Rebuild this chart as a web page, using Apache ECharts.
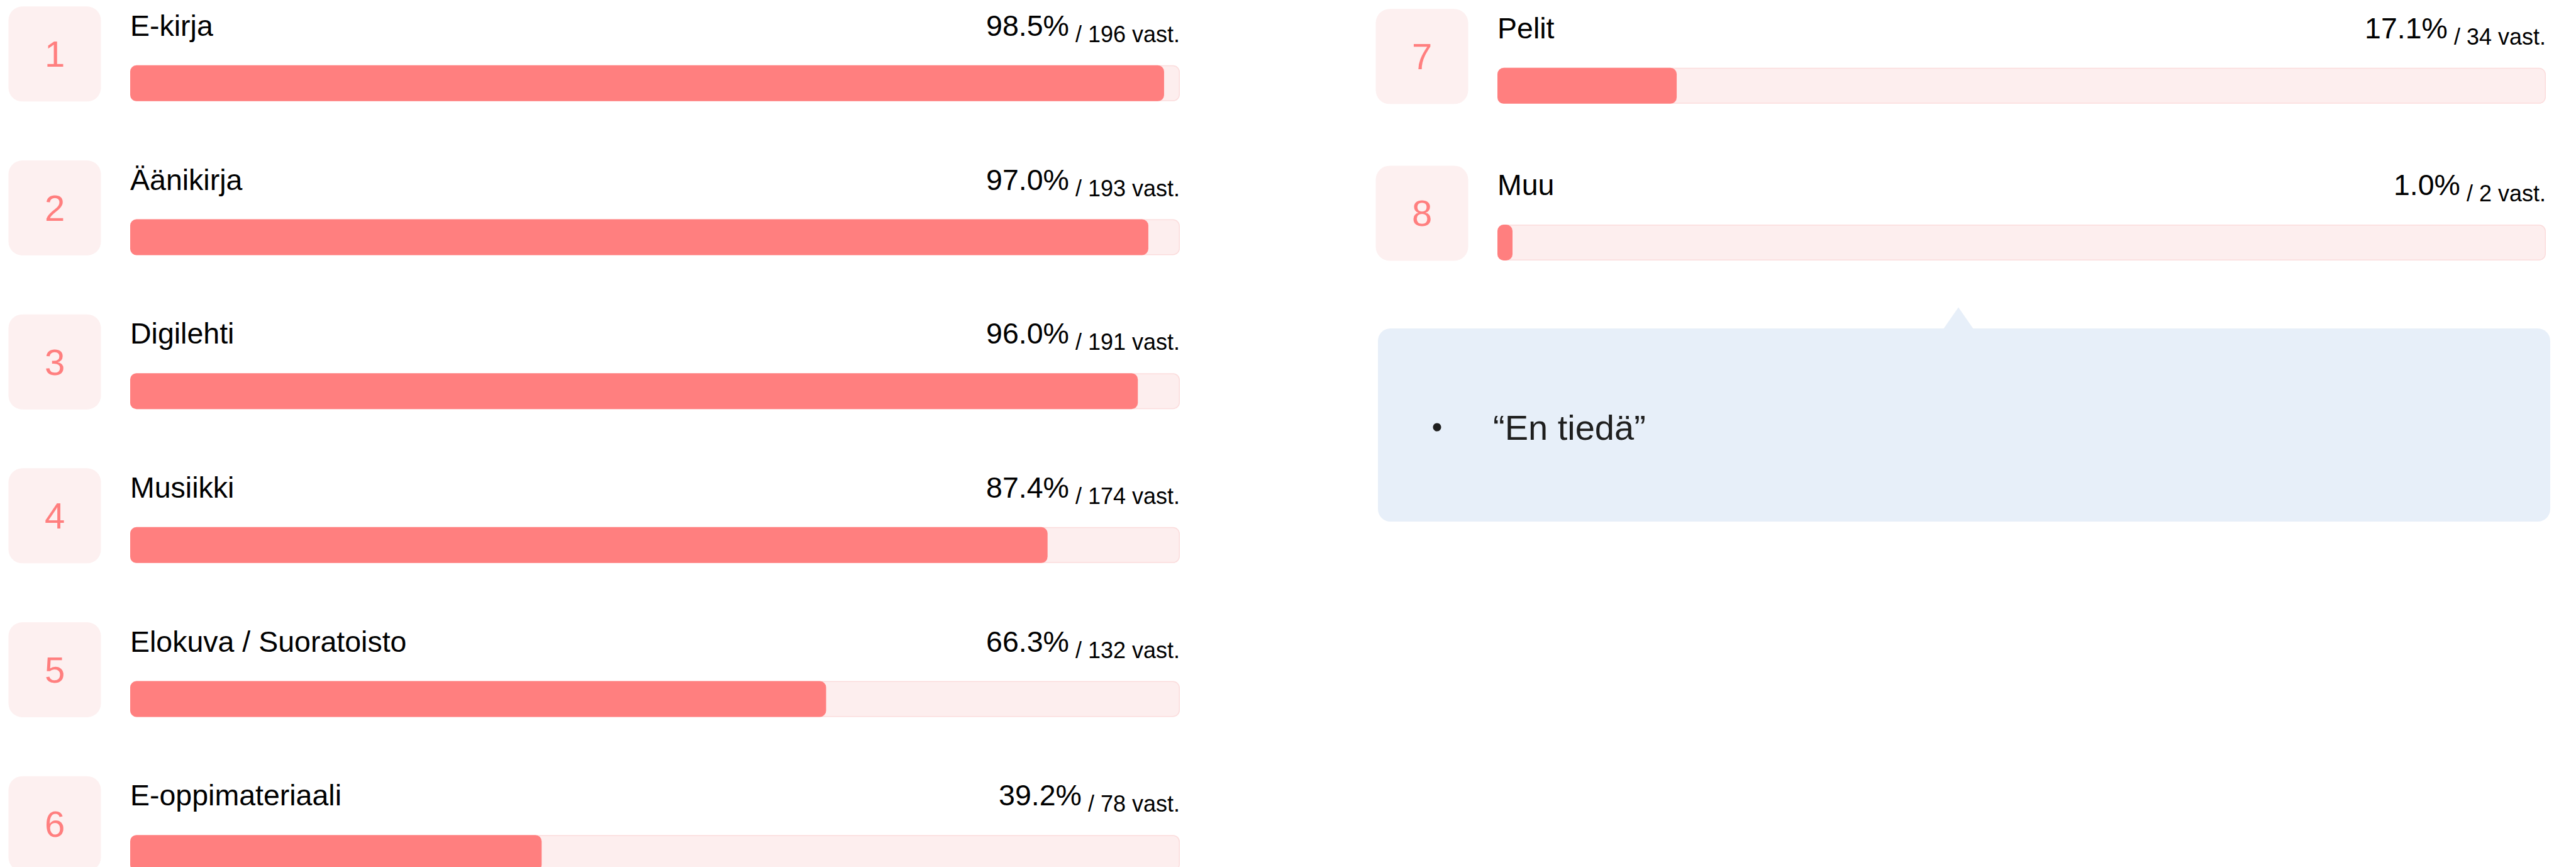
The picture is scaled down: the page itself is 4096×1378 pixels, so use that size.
<!DOCTYPE html>
<html lang="fi">
<head>
<meta charset="UTF-8">
<title>Digitaaliset aineistot</title>
<script src="https://cdn.jsdelivr.net/npm/echarts@6/dist/echarts.min.js"></script>
<style>
    html, body { margin: 0; padding: 0; background: #fff; }
    #main { width: 4096px; height: 1378px; }
</style>
</head>
<body>
<div id="main"></div>
<script>
    // vasen sarake
    const leftRanks = ['1', '2', '3', '4', '5', '6'];
    const leftNames = ['E-kirja', 'Äänikirja', 'Digilehti', 'Musiikki', 'Elokuva / Suoratoisto', 'E-oppimateriaali'];
    const leftPct = [98.5, 97.0, 96.0, 87.4, 66.3, 39.2];
    const leftCount = [196, 193, 191, 174, 132, 78];

    // oikea sarake
    const rightRanks = ['7', '8'];
    const rightNames = ['Pelit', 'Muu'];
    const rightPct = [17.1, 1.0];
    const rightCount = [34, 2];

    // "Muu"-vastaukset
    const otherAnswers = ['“En tiedä”'];

    const scaleMax = 100;

    const FONT = '"Liberation Sans", Arial, Helvetica, sans-serif';
    const BAR_W = 57;
    const LABEL_Y = -63;
    const badgePath = 'path://M22,0H125A22,22,0,0,1,147,22V129A22,22,0,0,1,125,151H22A22,22,0,0,1,0,129V22A22,22,0,0,1,22,0Z';

    function column(idx, names, pct, count, ranks) {
        return [
            {
                // tausta (100 %)
                type: 'bar',
                xAxisIndex: idx, yAxisIndex: idx,
                data: names.map(function () { return scaleMax; }),
                barWidth: BAR_W,
                barGap: '-100%',
                silent: true,
                itemStyle: { color: '#fdeeee', borderColor: '#fbdcdc', borderWidth: 1.5, borderRadius: 10 },
                label: {
                    show: true,
                    position: ['100%', LABEL_Y],
                    align: 'right',
                    verticalAlign: 'middle',
                    formatter: function (p) {
                        return '{pct|' + pct[p.dataIndex].toFixed(1) + '%}{cnt| / ' + count[p.dataIndex] + ' vast.}';
                    },
                    rich: {
                        pct: { fontSize: 46.5, fontFamily: FONT, color: '#000', verticalAlign: 'middle' },
                        cnt: { fontSize: 36, fontFamily: FONT, color: '#000', verticalAlign: 'middle', padding: [27, 0, 0, 0] }
                    }
                }
            },
            {
                type: 'bar',
                xAxisIndex: idx, yAxisIndex: idx,
                data: pct,
                barWidth: BAR_W,
                barGap: '-100%',
                barMinHeight: 24,
                silent: true,
                itemStyle: { color: '#ff7f7f', borderRadius: 10 },
                label: {
                    show: true,
                    position: [0, LABEL_Y],
                    align: 'left',
                    verticalAlign: 'middle',
                    formatter: '{b}',
                    fontSize: 46.5,
                    fontFamily: FONT,
                    color: '#000'
                }
            },
            {
                // järjestysnumero
                type: 'scatter',
                xAxisIndex: idx, yAxisIndex: idx,
                data: names.map(function (n) { return [0, n]; }),
                symbol: badgePath,
                symbolKeepAspect: false,
                symbolSize: [147, 151],
                symbolOffset: [-120, -46.5],
                clip: false,
                silent: true,
                itemStyle: { color: '#fdf0f0', opacity: 1 },
                label: {
                    show: true,
                    position: 'inside',
                    formatter: function (p) { return ranks[p.dataIndex]; },
                    fontSize: 58,
                    fontFamily: FONT,
                    color: '#ff7f7f'
                }
            }
        ];
    }

    let myChart = echarts.init(document.getElementById('main'), null, { renderer: 'svg' });
    let option = {
        animation: false,
        backgroundColor: '#fff',
        textStyle: { fontFamily: FONT },
        grid: [
            { left: 207, width: 1669, top: 10, height: 1468, outerBoundsMode: 'none' },
            { left: 2381, width: 1667, top: 11.8, height: 498.2, outerBoundsMode: 'none' }
        ],
        xAxis: [
            { type: 'value', gridIndex: 0, min: 0, max: scaleMax, show: false },
            { type: 'value', gridIndex: 1, min: 0, max: scaleMax, show: false }
        ],
        yAxis: [
            { type: 'category', gridIndex: 0, data: leftNames, inverse: true, show: false },
            { type: 'category', gridIndex: 1, data: rightNames, inverse: true, show: false }
        ],
        graphic: [
            { type: 'rect', shape: { x: 2191, y: 522, width: 1864, height: 307, r: 20 }, style: { fill: '#e7eff9' }, silent: true },
            { type: 'polygon', shape: { points: [[3090, 523], [3114, 488.5], [3138, 523]] }, style: { fill: '#e7eff9' }, silent: true },
            { type: 'circle', shape: { cx: 2285, cy: 679, r: 6.5 }, style: { fill: '#1f1f1f' }, silent: true },
            {
                type: 'text', x: 2374, y: 679, silent: true,
                style: { text: otherAnswers[0], fontSize: 56, fontFamily: FONT, fill: '#1f1f1f', align: 'left', verticalAlign: 'middle' }
            }
        ],
        series: column(0, leftNames, leftPct, leftCount, leftRanks)
            .concat(column(1, rightNames, rightPct, rightCount, rightRanks))
    };
    myChart.setOption(option);
</script>
</body>
</html>
